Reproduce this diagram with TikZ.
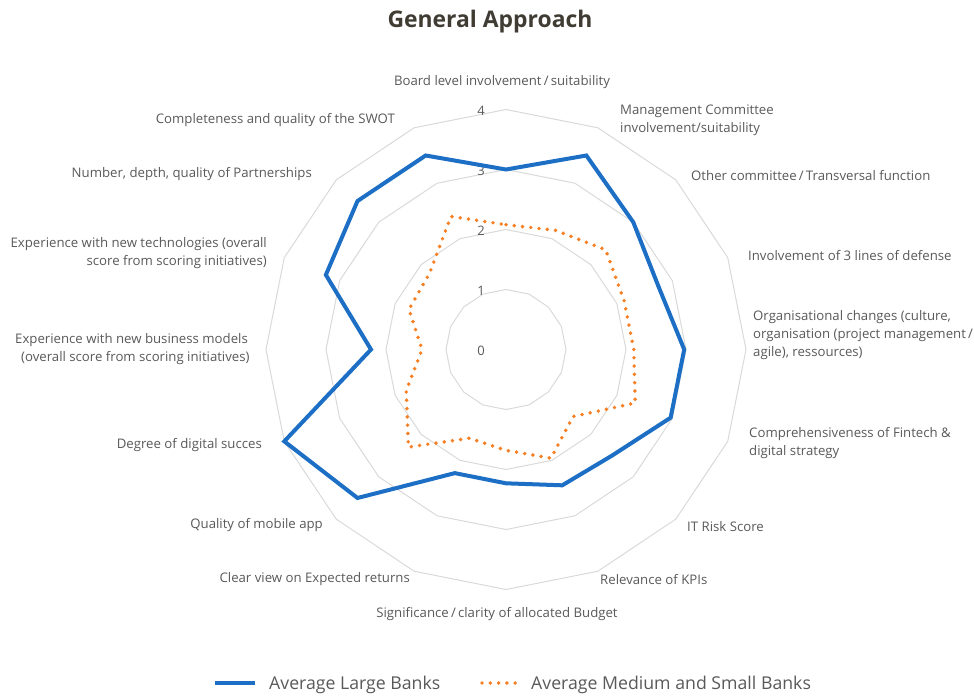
\documentclass[tikz,border=0pt]{standalone}
\usepackage{fontspec}
\setmainfont{Open Sans}
\definecolor{txtgray}{HTML}{595959}
\definecolor{titlegray}{HTML}{403C33}
\definecolor{gridgray}{HTML}{D9D9D9}
\definecolor{bankblue}{HTML}{1C6FC4}
\definecolor{bankorange}{HTML}{F58025}
\begin{document}
\begin{tikzpicture}[x=1pt,y=-1pt,
  lbl/.style={font=\fontsize{13.2}{18}\selectfont, text=txtgray, inner sep=0pt},
  tick/.style={font=\fontsize{13}{15}\selectfont, text=txtgray, inner sep=0pt},
  legtxt/.style={font=\fontsize{17.7}{21}\selectfont, text=txtgray, inner sep=0pt, anchor=west},
  gridring/.style={draw=gridgray, line width=1pt},
  blueline/.style={draw=bankblue, line width=4pt, line join=miter},
  orangeline/.style={draw=bankorange, line width=3.9pt, line cap=round, dash pattern=on 0pt off 8.3pt}]
\useasboundingbox (0,0) rectangle (974,696);
% title
\node[font=\fontsize{22.9}{27}\selectfont\bfseries, text=titlegray, inner sep=0pt] (title) at (490,22) {General Approach};
% grid rings
\foreach \r in {1,...,4}{
  \draw[gridring] (506,{349.5-60*\r}) \foreach \k in {1,...,15}{ -- ({506+60*\r*sin(\k*22.5)},{349.5-60*\r*cos(\k*22.5)}) } -- cycle;
}
% tick labels
\foreach \t in {0,...,4}{
  \node[tick] (t\t) at (481,{351-60*\t}) {\t};
}
% data points
\foreach \v [count=\i from 0] in {3.0,3.5,3.0,2.75,2.97,2.97,2.5,2.45,2.23,2.23,3.5,4.0,2.25,3.25,3.5,3.5}{
  \coordinate (b\i) at ({506+60*\v*sin(\i*22.5)},{349.5-60*\v*cos(\i*22.5)});
}
\foreach \v [count=\i from 0] in {2.08,2.15,2.35,2.13,2.13,2.33,1.58,1.96,1.68,1.6,2.3,1.8,1.4,1.75,1.8,2.4}{
  \coordinate (o\i) at ({506+60*\v*sin(\i*22.5)},{349.5-60*\v*cos(\i*22.5)});
}
\draw[orangeline] (o0) \foreach \i in {1,...,15}{ -- (o\i) } -- cycle;
\draw[blueline] (b0) \foreach \i in {1,...,15}{ -- (b\i) } -- cycle;
% category labels
\node[lbl] (l0) at (502,82.5) {Board level involvement\,/\,suitability};
\node[lbl, anchor=west, align=left] (l1) at (620,120) {Management Committee\\involvement/suitability};
\node[lbl, anchor=west] (l2) at (691,175.5) {Other committee\,/\,Transversal function};
\node[lbl, anchor=west] (l3) at (748,255.5) {Involvement of 3 lines of defense};
\node[lbl, anchor=west, align=left] (l4) at (753,335.5) {Organisational changes (culture,\\organisation (project management\,/\\agile), ressources)};
\node[lbl, anchor=west, align=left] (l5) at (749,443.5) {Comprehensiveness of Fintech \&\\digital strategy};
\node[lbl, anchor=west] (l6) at (687,526.5) {IT Risk Score};
\node[lbl, anchor=west] (l7) at (600,579.5) {Relevance of KPIs};
\node[lbl] (l8) at (497,614.5) {Significance\,/\,clarity of allocated Budget};
\node[lbl, anchor=east] (l9) at (410,579.5) {Clear view on Expected returns};
\node[lbl, anchor=east] (l10) at (323,525.5) {Quality of mobile app};
\node[lbl, anchor=east] (l11) at (262,445.5) {Degree of digital succes};
\node[lbl, anchor=west, align=left] (l12) at (15,349.5) {Experience with new business models\\\hspace*{6pt}(overall score from scoring initiatives)};
\node[lbl, anchor=east, align=right] (l13) at (267,253.5) {Experience with new technologies (overall\\score from scoring initiatives)};
\node[lbl, anchor=east] (l14) at (312,174.5) {Number, depth, quality of Partnerships};
\node[lbl, anchor=east] (l15) at (395,120.5) {Completeness and quality of the SWOT};
% legend
\coordinate (lb1) at (215,683);
\coordinate (lb2) at (255,683);
\draw[draw=bankblue, line width=4pt] (lb1) -- (lb2);
\node[legtxt] (leg1) at (269,685) {Average Large Banks};
\coordinate (lo1) at (482,683);
\coordinate (lo2) at (516,683);
\draw[orangeline] (lo1) -- (lo2);
\node[legtxt] (leg2) at (531,685) {Average Medium and Small Banks};
\end{tikzpicture}
\end{document}
